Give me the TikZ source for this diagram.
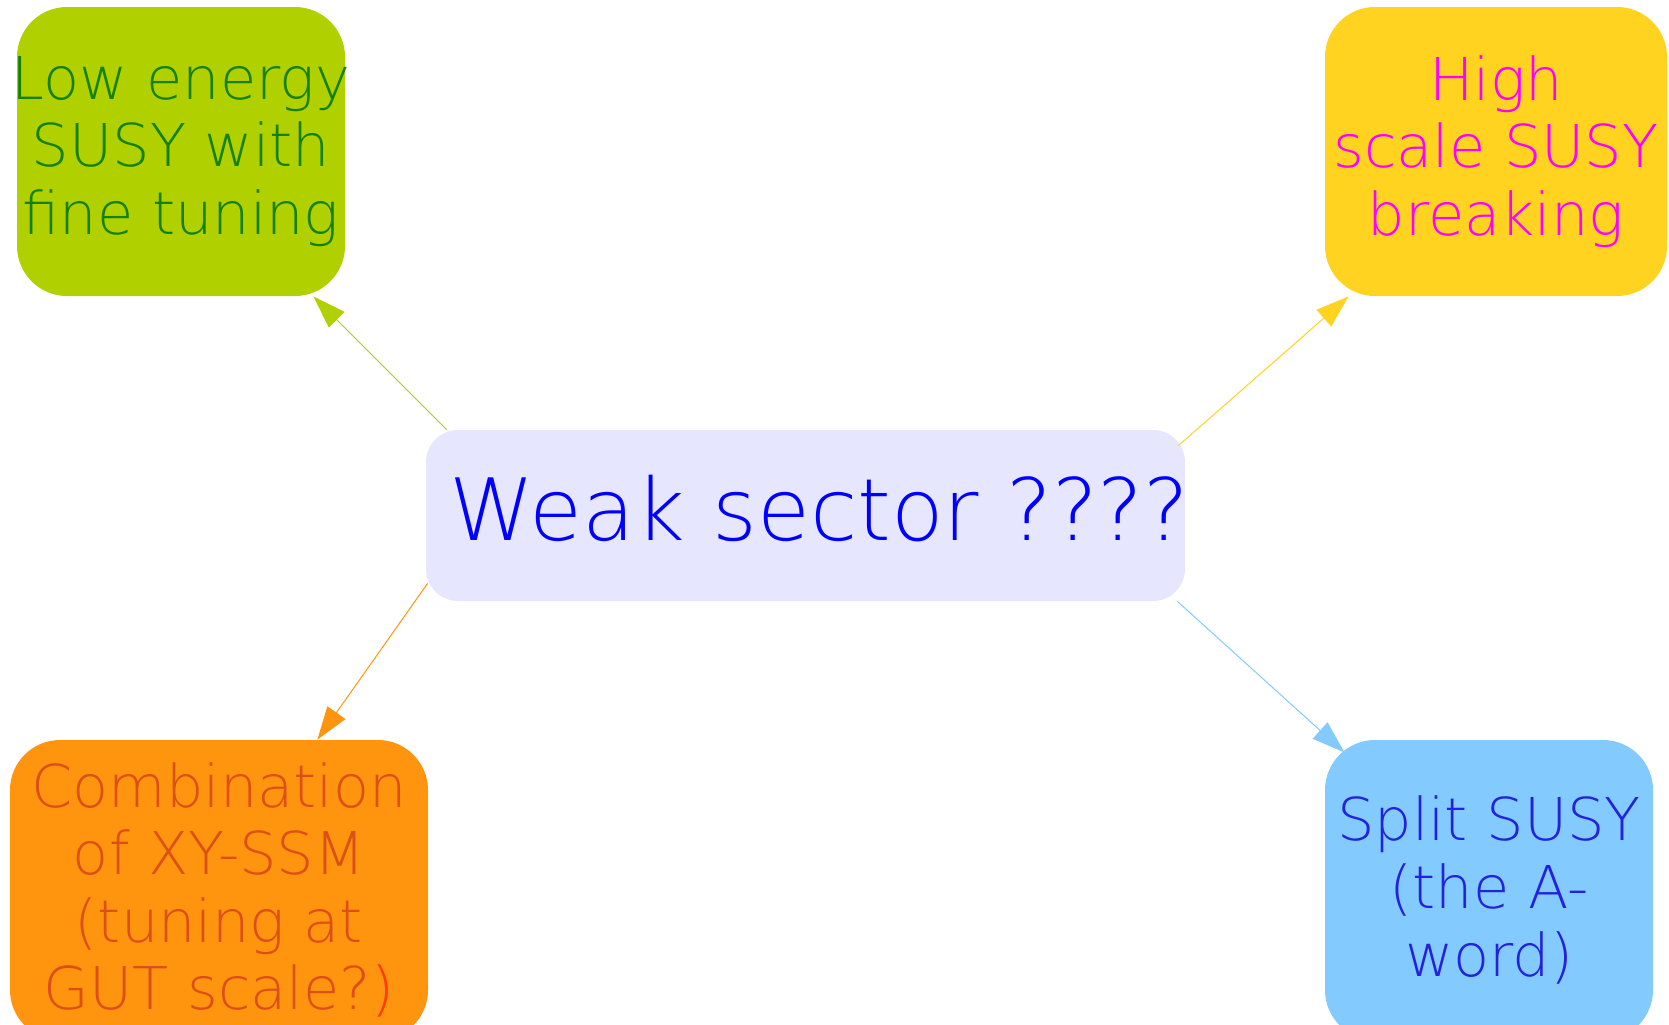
\documentclass[tikz,border=0pt]{standalone}
\usepackage{fontspec}
\setmainfont{DejaVu Sans ExtraLight}
\usetikzlibrary{arrows.meta}

\definecolor{weakfill}{RGB}{230,230,255}
\definecolor{weaktext}{RGB}{0,0,255}
\definecolor{lowfill}{RGB}{176,208,0}
\definecolor{lowtext}{RGB}{20,130,0}
\definecolor{highfill}{RGB}{255,211,32}
\definecolor{hightext}{RGB}{255,0,255}
\definecolor{combfill}{RGB}{255,149,14}
\definecolor{combtext}{RGB}{220,80,22}
\definecolor{combparen}{RGB}{255,60,0}
\definecolor{splitfill}{RGB}{131,202,255}
\definecolor{splittext}{RGB}{35,35,220}

\begin{document}
\begin{tikzpicture}[x=0.5pt, y=-0.5pt,
    box/.style={rounded corners=25pt, inner xsep=-12pt, inner ysep=0pt, align=center,
      font=\fontsize{29.5}{33.8}\selectfont},
    link/.style={-{Triangle[length=16.5pt,width=11pt]}, line width=0.5pt}]
  \useasboundingbox (0,0) rectangle (1669,1024);

  % the four scenarios
  \node[box, fill=lowfill, text=lowtext, minimum width=164pt, minimum height=144.5pt]
    (low) at (181,151.5) {Low energy\\SUSY with\\fine tuning};
  \node[box, fill=highfill, text=hightext, minimum width=171pt, minimum height=144.5pt]
    (high) at (1496,151.5) {High\\scale SUSY\\breaking};
  \node[box, fill=combfill, text=combtext, minimum width=209pt, minimum height=150pt]
    (comb) at (219,890) {Combination\\of XY-SSM\\(tuning at\\GUT scale?\textcolor{combparen}{)}};
  \node[box, fill=splitfill, text=splittext, minimum width=164pt, minimum height=150pt]
    (split) at (1489,890) {Split SUSY\\(the A-\\word)};

  % the open question in the middle
  \node[box, rounded corners=16pt, fill=weakfill, text=weaktext, text depth=7.5pt,
    minimum width=379.5pt, minimum height=85.5pt, font=\fontsize{43}{48}\selectfont]
    (weak) at (805.5,515.5) {\hspace*{14pt}Weak sector ????};

  \draw[link, lowfill] ([xshift=10.5pt]weak.north west) -- ([xshift=-16pt]low.south east);
  \draw[link, highfill] ([xshift=-3.5pt,yshift=-8pt]weak.north east) -- ([xshift=12pt]high.south west);
  \draw[link, combfill] ([xshift=1pt,yshift=9pt]weak.south west) -- ([xshift=-55.5pt]comb.north east);
  \draw[link, splitfill] ([xshift=-4pt]weak.south east) -- ([xshift=10pt,yshift=-6.5pt]split.north west);
\end{tikzpicture}
\end{document}
